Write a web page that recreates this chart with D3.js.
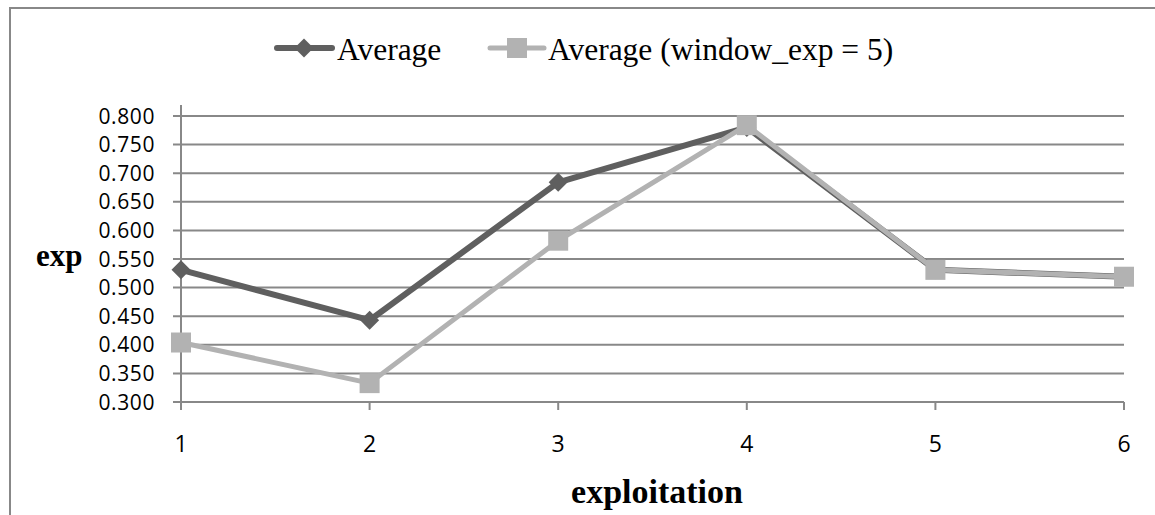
<!DOCTYPE html>
<html>
<head>
<meta charset="utf-8">
<script src="https://cdn.jsdelivr.net/npm/d3@7"></script>
<style>
  body { margin: 0; background: #fff; }
  svg { display: block; }
  .tick-label { font-family: "Open Sans", sans-serif; font-size: 21px; fill: #000; }
  .serif { font-family: "Liberation Serif", "Times New Roman", serif; fill: #000; }
</style>
</head>
<body>
<div id="chart"></div>
<script>
// data
const exploitation = [1, 2, 3, 4, 5, 6];
const average = [0.531, 0.443, 0.684, 0.780, 0.531, 0.519];
const averageWindow = [0.404, 0.333, 0.582, 0.784, 0.531, 0.519];
const yTicks = [0.3, 0.35, 0.4, 0.45, 0.5, 0.55, 0.6, 0.65, 0.7, 0.75, 0.8];
const seriesNames = ['Average', 'Average (window_exp = 5)'];

const width = 1155, height = 515;
const darkCol = '#5f5f5f', lightCol = '#b2b2b2', gridCol = '#888888';

let svg = d3.select('#chart')
    .append('svg')
    .attr('width', width)
    .attr('height', height);

// outer frame (only left/top visible)
svg.append('rect')
    .attr('x', 10).attr('y', 8)
    .attr('width', 1200).attr('height', 600)
    .attr('fill', 'none')
    .attr('stroke', gridCol)
    .attr('stroke-width', 2);

let x = d3.scaleLinear().domain([1, 6]).range([181, 1124]);
let y = d3.scaleLinear().domain([0.3, 0.8]).range([402, 116]);

// gridlines
svg.append('g')
    .selectAll('line')
    .data(yTicks)
    .enter()
    .append('line')
    .attr('x1', 173).attr('x2', x(6))
    .attr('y1', d => y(d)).attr('y2', d => y(d))
    .attr('stroke', gridCol)
    .attr('stroke-width', 2);

// y axis line
svg.append('line')
    .attr('x1', x(1)).attr('x2', x(1))
    .attr('y1', 105).attr('y2', y(0.3) + 8)
    .attr('stroke', gridCol).attr('stroke-width', 2);

// x tick marks
svg.append('g')
    .selectAll('line')
    .data(exploitation)
    .enter()
    .append('line')
    .attr('x1', d => x(d)).attr('x2', d => x(d))
    .attr('y1', y(0.3)).attr('y2', y(0.3) + 8)
    .attr('stroke', gridCol).attr('stroke-width', 2);

// tick labels
svg.append('g')
    .selectAll('text')
    .data(yTicks)
    .enter()
    .append('text')
    .attr('class', 'tick-label')
    .attr('x', 155)
    .attr('y', d => y(d) + 7.5)
    .attr('text-anchor', 'end')
    .style('letter-spacing', '0.6px')
    .text(d => d3.format('.3f')(d));

svg.append('g')
    .selectAll('text')
    .data(exploitation)
    .enter()
    .append('text')
    .attr('class', 'tick-label')
    .attr('x', d => x(d))
    .attr('y', 452)
    .attr('text-anchor', 'middle')
    .style('font-size', '23px')
    .text(d => d);

// axis titles
svg.append('text')
    .attr('class', 'serif')
    .attr('x', 36).attr('y', 266)
    .style('font-size', '31px').style('font-weight', 'bold')
    .text('exp');

svg.append('text')
    .attr('class', 'serif')
    .attr('x', 657).attr('y', 503)
    .attr('text-anchor', 'middle')
    .style('font-size', '34px').style('font-weight', 'bold')
    .text('exploitation');

let line = d3.line()
    .x((d, i) => x(exploitation[i]))
    .y(d => y(d));

let diamond = d3.symbol().type(d3.symbolDiamond2).size(230);

// dark series
svg.append('path')
    .datum(average)
    .attr('d', line)
    .attr('fill', 'none')
    .attr('stroke', darkCol)
    .attr('stroke-width', 6)
    .attr('stroke-linejoin', 'round');

svg.append('g')
    .selectAll('path')
    .data(average)
    .enter()
    .append('path')
    .attr('d', diamond)
    .attr('transform', (d, i) => 'translate(' + x(exploitation[i]) + ',' + y(d) + ')')
    .attr('fill', darkCol);

// light series
svg.append('path')
    .datum(averageWindow)
    .attr('d', line)
    .attr('fill', 'none')
    .attr('stroke', lightCol)
    .attr('stroke-width', 5)
    .attr('stroke-linejoin', 'round');

svg.append('g')
    .selectAll('rect')
    .data(averageWindow)
    .enter()
    .append('rect')
    .attr('x', (d, i) => x(exploitation[i]) - 10)
    .attr('y', d => y(d) - 10)
    .attr('width', 20).attr('height', 20)
    .attr('fill', lightCol);

// legend
let legendY = 48;
svg.append('line')
    .attr('x1', 277).attr('x2', 332)
    .attr('y1', legendY).attr('y2', legendY)
    .attr('stroke', darkCol).attr('stroke-width', 6)
    .attr('stroke-linecap', 'round');
svg.append('path')
    .attr('d', diamond)
    .attr('transform', 'translate(304,' + legendY + ')')
    .attr('fill', darkCol);
svg.append('text')
    .attr('class', 'serif')
    .attr('x', 337).attr('y', 60)
    .style('font-size', '31.5px')
    .text(seriesNames[0]);

svg.append('line')
    .attr('x1', 490).attr('x2', 544)
    .attr('y1', legendY).attr('y2', legendY)
    .attr('stroke', lightCol).attr('stroke-width', 5)
    .attr('stroke-linecap', 'round');
svg.append('rect')
    .attr('x', 507).attr('y', legendY - 10)
    .attr('width', 20).attr('height', 20)
    .attr('fill', lightCol);
svg.append('text')
    .attr('class', 'serif')
    .attr('x', 548).attr('y', 60)
    .style('font-size', '31.5px')
    .text(seriesNames[1]);
</script>
</body>
</html>
